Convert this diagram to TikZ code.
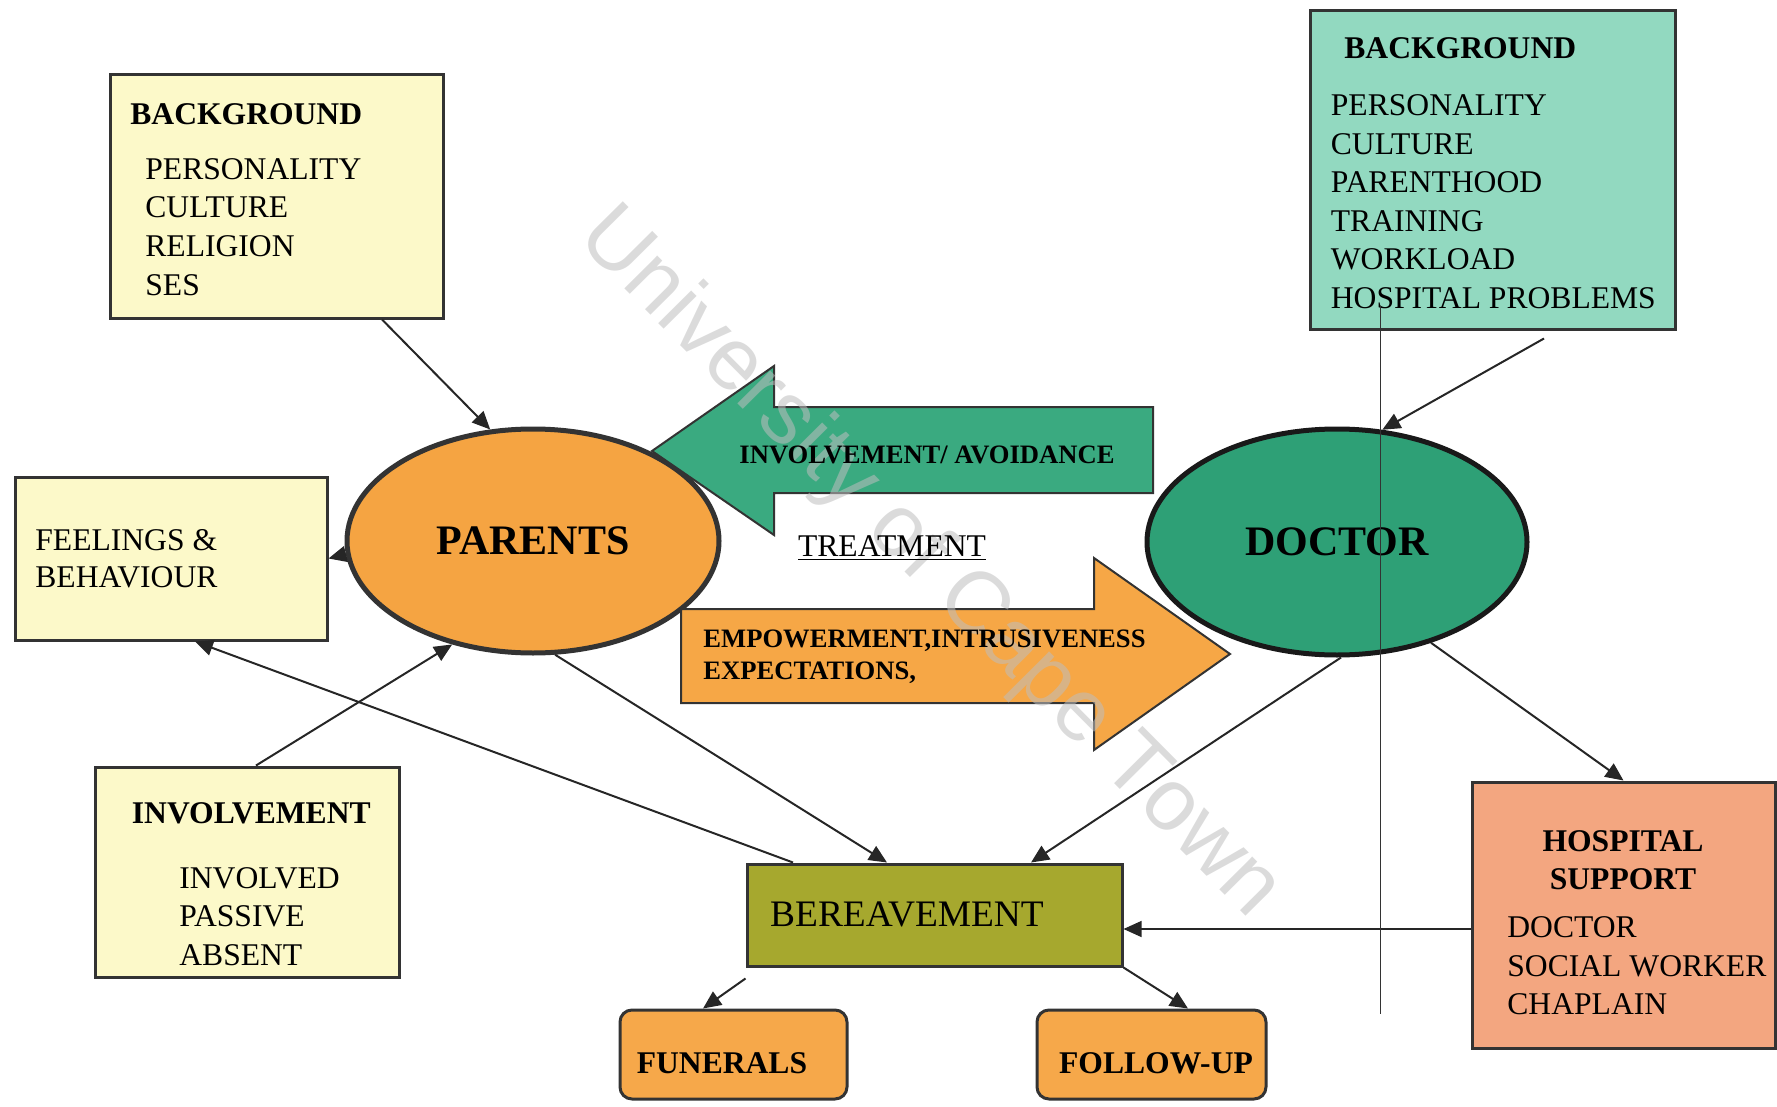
\documentclass[tikz,border=0pt]{standalone}
\usepackage{fontspec}
\setmainfont{Liberation Serif}
\newfontfamily\wmfont{Liberation Sans}
\usepackage{tikz}
\usetikzlibrary{shapes.geometric,arrows.meta,decorations.text}

\definecolor{paleyellow}{RGB}{252,249,201}
\definecolor{mint}{RGB}{146,217,192}
\definecolor{parorange}{RGB}{245,164,66}
\definecolor{docgreen}{RGB}{46,160,118}
\definecolor{arrgreen}{RGB}{58,170,128}
\definecolor{arrorange}{RGB}{246,167,70}
\definecolor{bereave}{RGB}{166,168,46}
\definecolor{salmonbox}{RGB}{243,166,128}
\definecolor{funorange}{RGB}{246,168,74}
\definecolor{wmgrey}{RGB}{190,190,190}

\begin{document}
\begin{tikzpicture}[x=0.5pt,y=-0.5pt,>={Triangle[length=9pt,width=8pt]}]
            \tikzstyle{box}=[rectangle,draw=black!80,line width=1.5pt,inner sep=0pt]
            \tikzstyle{txt}=[anchor=base west,inner sep=0pt,font=\fontsize{15.8pt}{19pt}\selectfont]
            \tikzstyle{head}=[txt,font=\fontsize{15.8pt}{19pt}\selectfont\bfseries]
            \tikzstyle{oval}=[ellipse,line width=2.5pt,inner sep=0pt]
            \tikzstyle{conn}=[->,line width=1pt,black!85]
            \tikzstyle{arrtxt}=[anchor=base west,inner sep=0pt,font=\fontsize{13.3pt}{16pt}\selectfont\bfseries]
            \useasboundingbox (0,0) rectangle (1777,1107);

            \node[box,fill=paleyellow,minimum width=166.5pt,minimum height=121.5pt] (BG-P) at (276.5,196.5) {};
            \node[box,fill=mint,minimum width=182.5pt,minimum height=159pt] (BG-D) at (1492.5,170) {};
            \node[box,fill=paleyellow,minimum width=156pt,minimum height=81.5pt] (FB) at (171,558.5) {};
            \node[box,fill=paleyellow,minimum width=152pt,minimum height=105pt] (INV) at (247,872) {};
            \node[box,fill=bereave,minimum width=187.5pt,minimum height=51pt] (BER) at (934.5,915) {};
            \node[box,fill=salmonbox,minimum width=151.5pt,minimum height=133pt] (HOS) at (1623.5,915) {};
            \node[box,rounded corners=6pt,fill=funorange,minimum width=113.5pt,minimum height=44.5pt] (FUN) at (733.5,1054.5) {};
            \node[box,rounded corners=6pt,fill=funorange,minimum width=114.5pt,minimum height=44.5pt] (FOL) at (1151.5,1054.5) {};

            \node[oval,draw=black!80,fill=parorange,minimum width=186pt,minimum height=112pt] (P) at (533,541) {};
            \node[oval,draw=black!90,fill=docgreen,minimum width=190pt,minimum height=113pt] (D) at (1337,542) {};

            \draw[line width=1pt,draw=black!80,fill=arrgreen] (652,451) -- (774,366) -- (774,407) -- (1153,407) -- (1153,493) -- (774,493) -- (774,535) -- cycle;
            \draw[line width=1pt,draw=black!80,fill=arrorange] (681,609) -- (1094,609) -- (1094,558) -- (1230,654) -- (1094,750) -- (1094,703) -- (681,703) -- cycle;

            \begin{scope}[fill opacity=0.55]
            \path[decorate,decoration={text along path,text align=center,
                text={|\wmfont\fontsize{44pt}{44pt}\selectfont\color{wmgrey}|University of Cape Town}}]
                (562,226) -- (1264,934);
            \end{scope}

            \node[font=\fontsize{21pt}{24pt}\selectfont\bfseries] (P-t) at (P) {PARENTS};
            \node[font=\fontsize{21pt}{24pt}\selectfont\bfseries] (D-t) at (D) {DOCTOR};
            \node[arrtxt,anchor=base] (T-inv) at (927,463) {INVOLVEMENT/ AVOIDANCE};
            \node[arrtxt] (T-emp) at (703,647) {EMPOWERMENT,INTRUSIVENESS};
            \node[arrtxt] (T-exp) at (703,679) {EXPECTATIONS,};
            \node[txt,anchor=base] (TR) at (892,556.5) {\underline{TREATMENT}};

            \node[head] (BG-P-h) at (130,125) {BACKGROUND};
            \foreach \y/\t [count=\i] in {179.5/PERSONALITY, 218/CULTURE, 256.5/RELIGION, 295/SES}
                    \node[txt] (BG-P-\i) at (145,\y) {\t};

            \node[head] (BG-D-h) at (1344,59) {BACKGROUND};
            \foreach \y/\t [count=\i] in {116/PERSONALITY, 154.5/CULTURE, 193/PARENTHOOD, 231.5/TRAINING, 270/WORKLOAD, 308.5/HOSPITAL PROBLEMS}
                    \node[txt] (BG-D-\i) at (1330.5,\y) {\t};

            \node[txt] (FB-1) at (35,550) {FEELINGS \&};
            \node[txt] (FB-2) at (35,587.5) {BEHAVIOUR};

            \node[head] (INV-h) at (131.5,823) {INVOLVEMENT};
            \foreach \y/\t [count=\i] in {888/INVOLVED, 926.5/PASSIVE, 965/ABSENT}
                    \node[txt] (INV-\i) at (179,\y) {\t};

            \node[head,anchor=base] (HOS-h1) at (1623,851.5) {HOSPITAL};
            \node[head,anchor=base] (HOS-h2) at (1623,889) {SUPPORT};
            \foreach \y/\t [count=\i] in {937.5/DOCTOR, 976/SOCIAL WORKER, 1014.5/CHAPLAIN}
                    \node[txt] (HOS-\i) at (1507,\y) {\t};

            \node[font=\fontsize{18.7pt}{22pt}\selectfont] (BER-t) at (907,914) {BEREAVEMENT};
            \node[head,anchor=base] (FUN-t) at (722,1073.5) {FUNERALS};
            \node[head,anchor=base] (FOL-t) at (1156,1073.5) {FOLLOW-UP};

                \draw[conn] ([xshift=52.75pt]BG-P.south) -- (P.111);
                \draw[conn] ([xshift=25.75pt,yshift=-4pt]BG-D.south) -- (D.68);
                \draw[conn] (P.184) -- (FB.east);
                \draw[conn] ([xshift=4.5pt]INV.north) -- (P.232);
                \draw[conn] ([xshift=-70.75pt]BER.north) -- ([xshift=12pt]FB.south);
                \draw[conn] (P.281) -- ([xshift=-23.75pt]BER.north);
                \draw[conn] (D.272) -- ([xshift=48.25pt]BER.north);
                \draw[conn] (D.313) -- (HOS.north);
                \draw[conn,line width=0.6pt] ([yshift=-7pt]HOS.west) -- ([yshift=-7pt]BER.east);
                \draw[conn] ([yshift=-5.5pt]BER.south west) -- ([xshift=-15.25pt]FUN.north);
                \draw[conn] (BER.south east) -- ([xshift=18.25pt]FOL.north);

                \draw[line width=0.5pt,black!80] (1380,306) -- (1380,1014);
        \end{tikzpicture}
\end{document}
